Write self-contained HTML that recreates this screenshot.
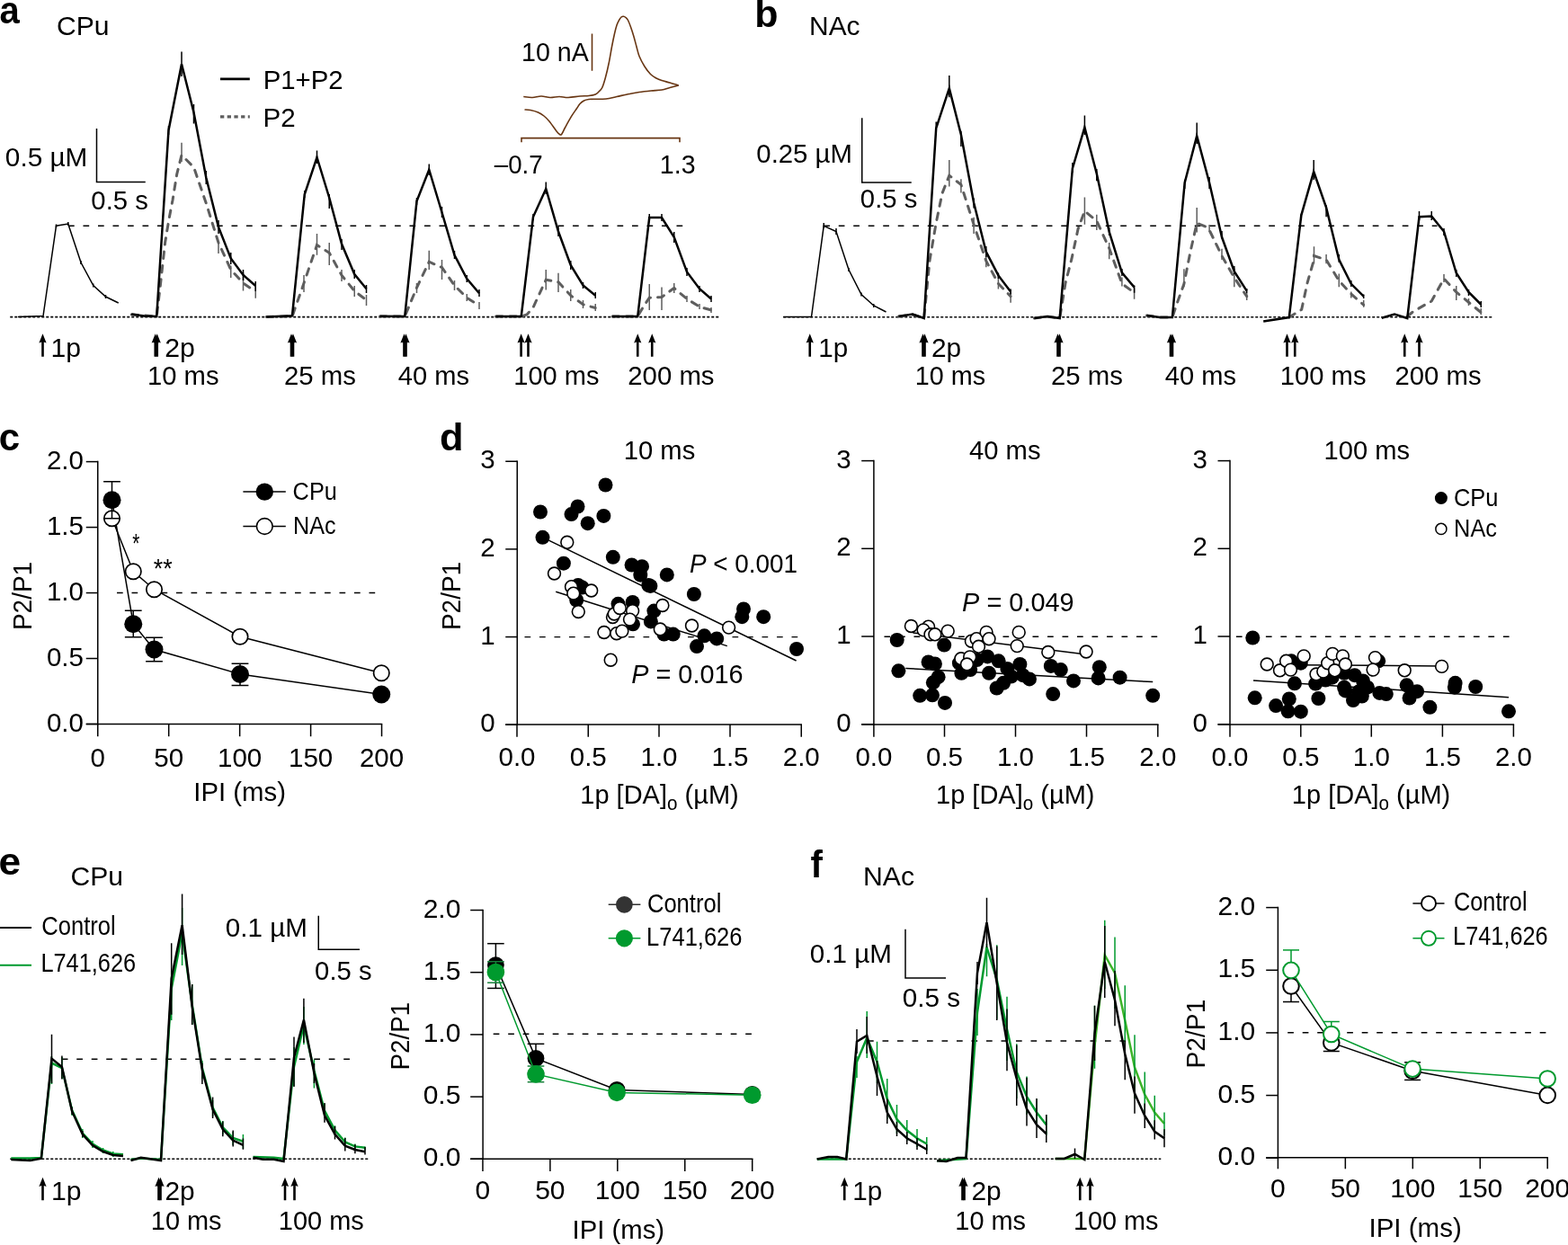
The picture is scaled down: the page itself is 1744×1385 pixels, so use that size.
<!DOCTYPE html>
<html><head><meta charset="utf-8"><title>Figure</title>
<style>html,body{margin:0;padding:0;background:#fff;}svg{display:block;}
text{font-family:"Liberation Sans",Arial,Helvetica,sans-serif;font-kerning:none;}</style></head>
<body><svg width="1744" height="1385" viewBox="0 0 1744 1385">
<rect width="1744" height="1385" fill="#fff"/>
<text transform="translate(-0.57,25.7) scale(0.9534,1.0)" fill="#000" xml:space="preserve"><tspan font-size="42" font-weight="bold">a</tspan></text>
<text transform="translate(62.97,38.75) scale(1.0198,1.03)" fill="#000" xml:space="preserve"><tspan font-size="29.5">CPu</tspan></text>
<line x1="245" y1="87.9" x2="277.8" y2="87.9" stroke="#000" stroke-width="2.6"/>
<text transform="translate(292.64,98.8) scale(0.9960,1.03)" fill="#000" xml:space="preserve"><tspan font-size="29.5">P1+P2</tspan></text>
<line x1="245" y1="129.8" x2="277.8" y2="129.8" stroke="#5e5e5e" stroke-width="3.2" stroke-dasharray="4.3 3.4"/>
<text transform="translate(292.62,141) scale(1.0022,1.03)" fill="#000" xml:space="preserve"><tspan font-size="29.5">P2</tspan></text>
<path d="M107.5,143 L107.5,202.5 L161.75,202.5" stroke="#000" stroke-width="1.5" fill="none" stroke-linejoin="miter" stroke-miterlimit="4" />
<text transform="translate(5.84,184.5) scale(1.0091,1.03)" fill="#000" xml:space="preserve"><tspan font-size="29.5">0.5 µM</tspan></text>
<text transform="translate(101.36,233) scale(0.9921,1.015)" fill="#000" xml:space="preserve"><tspan font-size="29.5">0.5 s</tspan></text>
<line x1="11.25" y1="352.6" x2="799.75" y2="352.6" stroke="#000" stroke-width="1.6" stroke-dasharray="3 2"/>
<line x1="76" y1="251.25" x2="759.75" y2="251.25" stroke="#000" stroke-width="1.4" stroke-dasharray="6.7 9.8"/>
<path d="M20,352.5 L48,351.5 L62.5,251.25 L75.75,249 L90,292 L103.75,317.5 L117.5,330 L131.75,337" stroke="#000" stroke-width="1.5" fill="none" stroke-linejoin="miter" stroke-miterlimit="4" />
<path d="M62.5,249.5V253 M75.75,247V251 M90,290V294 M103.75,315.5V319.5 M117.5,328V332" stroke="#000" stroke-width="1.5" fill="none"/>
<path d="M146.25,350 L174.25,352 L178.2,318.7 L183.7,269.3 L187.8,244.6 L192,222.7 L196.7,193.9 L202,172.5 L215.5,186 L229.25,226 L243,270 L256.75,300 L270.5,315 L284.25,324.5" stroke="#5e5e5e" stroke-width="3" fill="none" stroke-linejoin="miter" stroke-miterlimit="4" stroke-dasharray="7.5 8" stroke-linecap="round"/>
<path d="M202,158.75V180 M243,268V282 M256.75,295.4V309 M270.5,303.6V323.5 M284.25,314.6V331.8" stroke="#5e5e5e" stroke-width="1.5" fill="none"/>
<path d="M146.25,349.5 L160,351.5 L174.25,352 L187.5,145 L202,71.25 L215.5,125 L229.25,197.5 L243,252.5 L256.75,287.5 L270.5,306 L284.25,318" stroke="#000" stroke-width="2.5" fill="none" stroke-linejoin="miter" stroke-miterlimit="4" />
<path d="M187.5,140V150 M202,57.5V85 M215.5,116V137.5 M229.25,190V205 M243,245V260 M256.75,281V294 M270.5,300V312 M284.25,313V324" stroke="#000" stroke-width="1.5" fill="none"/>
<path d="M296.25,352.5 L325,352 L338,315 L352.5,272.5 L366.25,281.25 L380,306.25 L394.25,323.75 L407.5,333.75" stroke="#5e5e5e" stroke-width="3" fill="none" stroke-linejoin="miter" stroke-miterlimit="4" stroke-dasharray="7.5 8" stroke-linecap="round"/>
<path d="M338,306V325 M352.5,260V283.75 M366.25,270V295 M380,300V313 M394.25,318V330 M407.5,328V340" stroke="#5e5e5e" stroke-width="1.5" fill="none"/>
<path d="M296.25,352.5 L325,351.25 L338.75,216.25 L352.5,175 L366.25,220 L380,271.25 L394.25,305 L407.5,321.25" stroke="#000" stroke-width="2.5" fill="none" stroke-linejoin="miter" stroke-miterlimit="4" />
<path d="M338.75,212V220 M352.5,167.5V182 M366.25,216V232 M380,266V278 M394.25,300V310 M407.5,317V326" stroke="#000" stroke-width="1.5" fill="none"/>
<path d="M422.5,352 L450.25,352 L463.5,320 L477.25,291.25 L491.5,297.5 L505.5,317.5 L519.25,331.25 L533,340" stroke="#5e5e5e" stroke-width="3" fill="none" stroke-linejoin="miter" stroke-miterlimit="4" stroke-dasharray="7.5 8" stroke-linecap="round"/>
<path d="M463.5,315V326 M477.25,278.75V300 M491.5,289V311 M505.5,312V323 M519.25,327V335 M533,336V344" stroke="#5e5e5e" stroke-width="1.5" fill="none"/>
<path d="M422.5,351.75 L450.25,352 L463.5,223.75 L477.25,188.75 L491.5,236.25 L505.5,283.75 L519.25,310 L533,326.25" stroke="#000" stroke-width="2.5" fill="none" stroke-linejoin="miter" stroke-miterlimit="4" />
<path d="M463.5,220V228 M477.25,182.5V195 M491.5,230V242 M505.5,279V288 M519.25,306V314 M533,322V330" stroke="#000" stroke-width="1.5" fill="none"/>
<path d="M551.5,352 L579.75,352 L586,350 L593,342 L607.25,311.25 L621,313.75 L634.75,328.75 L648.5,338.75 L662.25,342.5" stroke="#5e5e5e" stroke-width="3" fill="none" stroke-linejoin="miter" stroke-miterlimit="4" stroke-dasharray="7.5 8" stroke-linecap="round"/>
<path d="M607.25,300V322.5 M621,303.75V325 M634.75,322V335 M648.5,334V343 M662.25,338V346" stroke="#5e5e5e" stroke-width="1.5" fill="none"/>
<path d="M551.5,352 L579.75,352 L593,241.25 L607.25,210 L621,257.5 L634.75,295 L648.5,317.5 L662.25,328.75" stroke="#000" stroke-width="2.5" fill="none" stroke-linejoin="miter" stroke-miterlimit="4" />
<path d="M593,238V245 M607.25,202.5V216 M621,252V263 M634.75,290V300 M648.5,314V321 M662.25,325V332" stroke="#000" stroke-width="1.5" fill="none"/>
<path d="M681,352 L709.25,352 L714.75,342.5 L722.25,331.25 L736,330.5 L749.75,320.5 L764,332.5 L778,341.25 L791,345" stroke="#5e5e5e" stroke-width="3" fill="none" stroke-linejoin="miter" stroke-miterlimit="4" stroke-dasharray="7.5 8" stroke-linecap="round"/>
<path d="M722.25,316V345 M736,319.5V345 M749.75,315V326 M764,329V336 M778,338V344 M791,342V348" stroke="#5e5e5e" stroke-width="1.5" fill="none"/>
<path d="M681,352 L709.25,352 L722.25,242 L736,242 L749.75,263.75 L764,302.5 L778,321.25 L791,332.5" stroke="#000" stroke-width="2.5" fill="none" stroke-linejoin="miter" stroke-miterlimit="4" />
<path d="M722.25,238V246 M736,238V246 M749.75,258V270 M764,298V307 M778,318V325 M791,329V336" stroke="#000" stroke-width="1.5" fill="none"/>
<path d="M47.5,371.2 L51.6,381.6 L48.8,380.4 V396.8 H46.2 V380.4 L43.4,381.6 Z" fill="#000"/>
<text transform="translate(56.45,396.5) scale(1.0229,1.015)" fill="#000" xml:space="preserve"><tspan font-size="29.5">1p</tspan></text>
<path d="M172.75,371.2 L176.85,381.6 L174.05,380.4 V396.8 H171.45 V380.4 L168.65,381.6 Z" fill="#000"/>
<path d="M174.75,371.2 L178.85,381.6 L176.05,380.4 V396.8 H173.45 V380.4 L170.65,381.6 Z" fill="#000"/>
<text transform="translate(183.28,396.7) scale(1.0269,1.015)" fill="#000" xml:space="preserve"><tspan font-size="29.5">2p</tspan></text>
<text transform="translate(164.03,428) scale(0.9900,1.015)" fill="#000" xml:space="preserve"><tspan font-size="29.5">10 ms</tspan></text>
<path d="M324,371.2 L328.1,381.6 L325.3,380.4 V396.8 H322.7 V380.4 L319.9,381.6 Z" fill="#000"/>
<path d="M326,371.2 L330.1,381.6 L327.3,380.4 V396.8 H324.7 V380.4 L321.9,381.6 Z" fill="#000"/>
<text transform="translate(316.02,428) scale(0.9964,1.015)" fill="#000" xml:space="preserve"><tspan font-size="29.5">25 ms</tspan></text>
<path d="M449.5,371.2 L453.6,381.6 L450.8,380.4 V396.8 H448.2 V380.4 L445.4,381.6 Z" fill="#000"/>
<path d="M451.5,371.2 L455.6,381.6 L452.8,380.4 V396.8 H450.2 V380.4 L447.4,381.6 Z" fill="#000"/>
<text transform="translate(442.83,428) scale(0.9861,1.015)" fill="#000" xml:space="preserve"><tspan font-size="29.5">40 ms</tspan></text>
<path d="M579.6,371.2 L583.7,381.6 L580.9,380.4 V396.8 H578.3 V380.4 L575.5,381.6 Z" fill="#000"/>
<path d="M587.5,371.2 L591.6,381.6 L588.8,380.4 V396.8 H586.2 V380.4 L583.4,381.6 Z" fill="#000"/>
<text transform="translate(571.29,428) scale(0.9847,1.015)" fill="#000" xml:space="preserve"><tspan font-size="29.5">100 ms</tspan></text>
<path d="M709.25,371.2 L713.35,381.6 L710.55,380.4 V396.8 H707.95 V380.4 L705.15,381.6 Z" fill="#000"/>
<path d="M725.25,371.2 L729.35,381.6 L726.55,380.4 V396.8 H723.95 V380.4 L721.15,381.6 Z" fill="#000"/>
<text transform="translate(698.27,428) scale(0.9953,1.015)" fill="#000" xml:space="preserve"><tspan font-size="29.5">200 ms</tspan></text>
<path d="M582.25,107.5 C583.88,107.67 588.71,108.58 592,108.5 C595.29,108.42 598.67,107 602,107 C605.33,107 608.67,108.42 612,108.5 C615.33,108.58 618.67,107.5 622,107.5 C625.33,107.5 628.17,108.58 632,108.5 C635.83,108.42 641.17,107.33 645,107 C648.83,106.67 652.12,106.83 655,106.5 C657.88,106.17 660.42,105.75 662.25,105 C664.08,104.25 664.75,103.25 666,102 C667.25,100.75 668.5,100.17 669.75,97.5 C671,94.83 672.25,90.58 673.5,86 C674.75,81.42 676.08,75.67 677.25,70 C678.42,64.33 679.46,57.42 680.5,52 C681.54,46.58 682.58,41.5 683.5,37.5 C684.42,33.5 685.17,30.5 686,28 C686.83,25.5 687.67,24 688.5,22.5 C689.33,21 690.17,19.71 691,19 C691.83,18.29 692.67,18.17 693.5,18.25 C694.33,18.33 695.17,18.79 696,19.5 C696.83,20.21 697.58,20.75 698.5,22.5 C699.42,24.25 700.46,27.08 701.5,30 C702.54,32.92 703.67,36.33 704.75,40 C705.83,43.67 706.96,48.25 708,52 C709.04,55.75 709.5,58.83 711,62.5 C712.5,66.17 714.92,70.67 717,74 C719.08,77.33 721.33,80.33 723.5,82.5 C725.67,84.67 727.92,85.83 730,87 C732.08,88.17 733.5,88.67 736,89.5 C738.5,90.33 741.88,91.08 745,92 C748.12,92.92 753.12,94.5 754.75,95" stroke="#683613" stroke-width="1.6" fill="none" stroke-linejoin="round"/>
<path d="M754.75,95 C753.12,95.42 748.12,96.67 745,97.5 C741.88,98.33 739.5,99.42 736,100 C732.5,100.58 728.17,100.58 724,101 C719.83,101.42 715,101.92 711,102.5 C707,103.08 704.17,103.67 700,104.5 C695.83,105.33 690.33,106.58 686,107.5 C681.67,108.42 678.33,109.53 674,110 C669.67,110.47 663.2,110.22 660,110.3 C656.8,110.38 656.55,110.22 654.8,110.5 C653.05,110.78 651.13,111.17 649.5,112 C647.87,112.83 646.35,114.03 645,115.5 C643.65,116.97 643,118.43 641.4,120.8 C639.8,123.17 637.55,126.17 635.4,129.7 C633.25,133.23 630.07,139.12 628.5,142 C626.93,144.88 626.7,145.7 626,147 C625.3,148.3 624.88,149.38 624.3,149.8 C623.72,150.22 623.38,150.13 622.5,149.5 C621.62,148.87 620.92,148.42 619,146 C617.08,143.58 613.33,137.83 611,135 C608.67,132.17 607.08,130.67 605,129 C602.92,127.33 601,126.08 598.5,125 C596,123.92 592.5,123 590,122.5 C587.5,122 584.58,122.08 583.5,122" stroke="#683613" stroke-width="1.6" fill="none" stroke-linejoin="round"/>
<path d="M580,158.2 L580,153.6 L756,153.6 L756,158.2" stroke="#683613" stroke-width="1.6" fill="none" stroke-linejoin="miter" stroke-miterlimit="4" />
<line x1="658.5" y1="37.5" x2="658.5" y2="78.75" stroke="#683613" stroke-width="1.6"/>
<text transform="translate(580.07,67.5) scale(0.9694,1.03)" fill="#000" xml:space="preserve"><tspan font-size="29.5">10 nA</tspan></text>
<text transform="translate(549.75,192.5) scale(0.9386,1.015)" fill="#000" xml:space="preserve"><tspan font-size="29.5">–0.7</tspan></text>
<text transform="translate(733.83,192.5) scale(0.9676,1.015)" fill="#000" xml:space="preserve"><tspan font-size="29.5">1.3</tspan></text>
<text transform="translate(839.17,29.75) scale(1.0230,1.0)" fill="#000" xml:space="preserve"><tspan font-size="42" font-weight="bold">b</tspan></text>
<text transform="translate(900.05,38.75) scale(1.0137,1.03)" fill="#000" xml:space="preserve"><tspan font-size="29.5">NAc</tspan></text>
<path d="M958.75,131.25 L958.75,203 L1013.75,203" stroke="#000" stroke-width="1.5" fill="none" stroke-linejoin="miter" stroke-miterlimit="4" />
<text transform="translate(841.35,181.25) scale(0.9941,1.03)" fill="#000" xml:space="preserve"><tspan font-size="29.5">0.25 µM</tspan></text>
<text transform="translate(956.86,230.5) scale(0.9921,1.015)" fill="#000" xml:space="preserve"><tspan font-size="29.5">0.5 s</tspan></text>
<line x1="871.25" y1="352.8" x2="1659.75" y2="352.8" stroke="#000" stroke-width="1.6" stroke-dasharray="3 2"/>
<line x1="916.25" y1="251.25" x2="1598.5" y2="251.25" stroke="#000" stroke-width="1.4" stroke-dasharray="6.7 9.8"/>
<path d="M871.25,352.5 L902.5,352.5 L916.25,251.25 L930,257.5 L944,300 L958,327.5 L971.75,340 L985.5,347" stroke="#000" stroke-width="1.5" fill="none" stroke-linejoin="miter" stroke-miterlimit="4" />
<path d="M916.25,248V254 M930,254V261 M944,298V302 M958,325.5V329.5 M971.75,338V342" stroke="#000" stroke-width="1.5" fill="none"/>
<path d="M999.5,352 L1015,350 L1027.7,354 L1034,290 L1041.2,247.8 L1048,215 L1055.8,195.2 L1068.9,205.4 L1083.1,249.8 L1096.8,290.3 L1110.4,315.5 L1124.1,329.7" stroke="#5e5e5e" stroke-width="3" fill="none" stroke-linejoin="miter" stroke-miterlimit="4" stroke-dasharray="7.5 8" stroke-linecap="round"/>
<path d="M1055.8,178V207.4 M1068.9,199.3V214.5 M1083.1,241.7V260 M1096.8,284.2V297.3 M1110.4,304.4V321.6 M1124.1,324.6V336.8" stroke="#5e5e5e" stroke-width="1.5" fill="none"/>
<path d="M999.5,352 L1015,349.5 L1027.7,354 L1041.2,142.7 L1055.8,98.2 L1068.9,149.8 L1083.1,225.6 L1096.8,280.2 L1110.4,306.4 L1124.1,324.6" stroke="#000" stroke-width="2.5" fill="none" stroke-linejoin="miter" stroke-miterlimit="4" />
<path d="M1041.2,135.6V150 M1055.8,84V108.3 M1068.9,145.7V162.9 M1083.1,220.5V231.6 M1096.8,274V286 M1110.4,303.4V310 M1124.1,321.6V327.5" stroke="#000" stroke-width="1.5" fill="none"/>
<path d="M1150.4,354 L1164.6,352 L1178.7,354 L1185,315 L1191.9,288.2 L1199,255 L1206.4,234.7 L1219.8,245.8 L1233.7,276.1 L1247.9,315.5 L1261.6,325.7" stroke="#5e5e5e" stroke-width="3" fill="none" stroke-linejoin="miter" stroke-miterlimit="4" stroke-dasharray="7.5 8" stroke-linecap="round"/>
<path d="M1206.4,219.5V249.8 M1219.8,238.7V255.9 M1233.7,270V288.3 M1247.9,308.5V318.4 M1261.6,320.5V332.7" stroke="#5e5e5e" stroke-width="1.5" fill="none"/>
<path d="M1150.4,354 L1164.6,352 L1178.7,354 L1192.9,187.2 L1206.4,141.7 L1219.8,193.2 L1233.7,257.9 L1247.9,303.4 L1261.6,319.6" stroke="#000" stroke-width="2.5" fill="none" stroke-linejoin="miter" stroke-miterlimit="4" />
<path d="M1192.9,181V192 M1206.4,128.5V150 M1219.8,188V201.3 M1233.7,253V262 M1247.9,299V307 M1261.6,317.5V325.7" stroke="#000" stroke-width="1.5" fill="none"/>
<path d="M1275.5,351 L1290,353 L1303.9,353 L1310,335 L1316.9,315.8 L1324,280 L1331.2,248.2 L1342,252.6 L1345.1,256 L1359,284.6 L1372.8,308.9 L1386.7,329.7" stroke="#5e5e5e" stroke-width="3" fill="none" stroke-linejoin="miter" stroke-miterlimit="4" stroke-dasharray="7.5 8" stroke-linecap="round"/>
<path d="M1316.9,299.3V319.3 M1331.2,230.9V258.6 M1345.1,250V258 M1359,276.8V288.9 M1372.8,298.5V319.3 M1386.7,326V334" stroke="#5e5e5e" stroke-width="1.5" fill="none"/>
<path d="M1275.5,351 L1290,353 L1303.9,353.1 L1317.7,203.2 L1331.2,151.2 L1345.1,203.2 L1359,263.8 L1372.8,301.9 L1386.7,323.6" stroke="#000" stroke-width="2.5" fill="none" stroke-linejoin="miter" stroke-miterlimit="4" />
<path d="M1317.7,199.7V210 M1331.2,136.5V160 M1345.1,197.1V210.1 M1359,257V265.5 M1372.8,296V305 M1386.7,321V326" stroke="#000" stroke-width="1.5" fill="none"/>
<path d="M1433.8,353 L1447.7,344.4 L1454,315 L1460.7,291.5 L1461.5,284.6 L1475.1,289 L1489.3,312.3 L1502.8,327 L1516.7,339.2" stroke="#5e5e5e" stroke-width="3" fill="none" stroke-linejoin="miter" stroke-miterlimit="4" stroke-dasharray="7.5 8" stroke-linecap="round"/>
<path d="M1461.5,274.2V293.3 M1475.1,282.9V293.3 M1489.3,304.5V319.3 M1502.8,324.6V331.5 M1516.7,334V341.8" stroke="#5e5e5e" stroke-width="1.5" fill="none"/>
<path d="M1405.2,357.4 L1433.8,353.1 L1447.3,239.6 L1461.2,191 L1475.1,230.9 L1489.3,288.9 L1502.8,315.8 L1516.7,329.7" stroke="#000" stroke-width="2.5" fill="none" stroke-linejoin="miter" stroke-miterlimit="4" />
<path d="M1447.3,237.8V245 M1461.2,178V200 M1475.1,228.3V241.3 M1489.3,283V292 M1502.8,312V319 M1516.7,327.6V331.9" stroke="#000" stroke-width="1.5" fill="none"/>
<path d="M1565.25,352 L1572.25,346.25 L1592.25,335 L1606,310 L1619.75,325 L1633.5,336.25 L1647.25,347.5" stroke="#5e5e5e" stroke-width="3" fill="none" stroke-linejoin="miter" stroke-miterlimit="4" stroke-dasharray="7.5 8" stroke-linecap="round"/>
<path d="M1606,305V314 M1619.75,318V334 M1633.5,332V340 M1647.25,343V350" stroke="#5e5e5e" stroke-width="1.5" fill="none"/>
<path d="M1536.75,353.75 L1551,349.5 L1565.25,354 L1578.5,241.25 L1592.25,240.5 L1606,257.5 L1619.75,303.75 L1633.5,325 L1647.25,338.75" stroke="#000" stroke-width="2.5" fill="none" stroke-linejoin="miter" stroke-miterlimit="4" />
<path d="M1578.5,235V245 M1592.25,235V245 M1606,254V262 M1619.75,300V308 M1633.5,322V329 M1647.25,335V342" stroke="#000" stroke-width="1.5" fill="none"/>
<path d="M900.75,371.2 L904.85,381.6 L902.05,380.4 V396.8 H899.45 V380.4 L896.65,381.6 Z" fill="#000"/>
<text transform="translate(910.24,396.5) scale(1.0059,1.015)" fill="#000" xml:space="preserve"><tspan font-size="29.5">1p</tspan></text>
<path d="M1026.5,371.2 L1030.6,381.6 L1027.8,380.4 V396.8 H1025.2 V380.4 L1022.4,381.6 Z" fill="#000"/>
<path d="M1028.5,371.2 L1032.6,381.6 L1029.8,380.4 V396.8 H1027.2 V380.4 L1024.4,381.6 Z" fill="#000"/>
<text transform="translate(1036,396.7) scale(1.0136,1.015)" fill="#000" xml:space="preserve"><tspan font-size="29.5">2p</tspan></text>
<text transform="translate(1017.81,428) scale(0.9738,1.015)" fill="#000" xml:space="preserve"><tspan font-size="29.5">10 ms</tspan></text>
<path d="M1176.5,371.2 L1180.6,381.6 L1177.8,380.4 V396.8 H1175.2 V380.4 L1172.4,381.6 Z" fill="#000"/>
<path d="M1178.5,371.2 L1182.6,381.6 L1179.8,380.4 V396.8 H1177.2 V380.4 L1174.4,381.6 Z" fill="#000"/>
<text transform="translate(1169.02,428) scale(0.9964,1.015)" fill="#000" xml:space="preserve"><tspan font-size="29.5">25 ms</tspan></text>
<path d="M1302,371.2 L1306.1,381.6 L1303.3,380.4 V396.8 H1300.7 V380.4 L1297.9,381.6 Z" fill="#000"/>
<path d="M1304,371.2 L1308.1,381.6 L1305.3,380.4 V396.8 H1302.7 V380.4 L1299.9,381.6 Z" fill="#000"/>
<text transform="translate(1295.83,428) scale(0.9861,1.015)" fill="#000" xml:space="preserve"><tspan font-size="29.5">40 ms</tspan></text>
<path d="M1431.5,371.2 L1435.6,381.6 L1432.8,380.4 V396.8 H1430.2 V380.4 L1427.4,381.6 Z" fill="#000"/>
<path d="M1440.25,371.2 L1444.35,381.6 L1441.55,380.4 V396.8 H1438.95 V380.4 L1436.15,381.6 Z" fill="#000"/>
<text transform="translate(1423.78,428) scale(0.9901,1.015)" fill="#000" xml:space="preserve"><tspan font-size="29.5">100 ms</tspan></text>
<path d="M1562.25,371.2 L1566.35,381.6 L1563.55,380.4 V396.8 H1560.95 V380.4 L1558.15,381.6 Z" fill="#000"/>
<path d="M1578.5,371.2 L1582.6,381.6 L1579.8,380.4 V396.8 H1577.2 V380.4 L1574.4,381.6 Z" fill="#000"/>
<text transform="translate(1551.53,428) scale(0.9927,1.015)" fill="#000" xml:space="preserve"><tspan font-size="29.5">200 ms</tspan></text>
<text transform="translate(-1.34,501)" fill="#000" xml:space="preserve"><tspan font-size="42" font-weight="bold">c</tspan></text>
<line x1="108.75" y1="512.85" x2="108.75" y2="806.25" stroke="#000" stroke-width="1.5"/>
<line x1="95.75" y1="513.6" x2="108.75" y2="513.6" stroke="#000" stroke-width="1.5"/>
<text x="92.9" y="521.7" font-size="29.5" text-anchor="end" fill="#000">2.0</text>
<line x1="95.75" y1="586.58" x2="108.75" y2="586.58" stroke="#000" stroke-width="1.5"/>
<text x="92.9" y="594.68" font-size="29.5" text-anchor="end" fill="#000">1.5</text>
<line x1="95.75" y1="659.55" x2="108.75" y2="659.55" stroke="#000" stroke-width="1.5"/>
<text x="92.9" y="667.65" font-size="29.5" text-anchor="end" fill="#000">1.0</text>
<line x1="95.75" y1="732.52" x2="108.75" y2="732.52" stroke="#000" stroke-width="1.5"/>
<text x="92.9" y="740.62" font-size="29.5" text-anchor="end" fill="#000">0.5</text>
<line x1="95.75" y1="805.5" x2="108.75" y2="805.5" stroke="#000" stroke-width="1.5"/>
<text x="92.9" y="813.6" font-size="29.5" text-anchor="end" fill="#000">0.0</text>
<line x1="95.75" y1="805.5" x2="425.25" y2="805.5" stroke="#000" stroke-width="1.5"/>
<line x1="108.75" y1="805.5" x2="108.75" y2="819.25" stroke="#000" stroke-width="1.5"/>
<text x="108.75" y="852.5" font-size="29.5" text-anchor="middle" fill="#000">0</text>
<line x1="187.7" y1="805.5" x2="187.7" y2="819.25" stroke="#000" stroke-width="1.5"/>
<text x="187.7" y="852.5" font-size="29.5" text-anchor="middle" fill="#000">50</text>
<line x1="266.65" y1="805.5" x2="266.65" y2="819.25" stroke="#000" stroke-width="1.5"/>
<text x="266.65" y="852.5" font-size="29.5" text-anchor="middle" fill="#000">100</text>
<line x1="345.6" y1="805.5" x2="345.6" y2="819.25" stroke="#000" stroke-width="1.5"/>
<text x="345.6" y="852.5" font-size="29.5" text-anchor="middle" fill="#000">150</text>
<line x1="424.55" y1="805.5" x2="424.55" y2="819.25" stroke="#000" stroke-width="1.5"/>
<text x="424.55" y="852.5" font-size="29.5" text-anchor="middle" fill="#000">200</text>
<text transform="translate(215.29,891.3) scale(0.9941,1.03)" fill="#000" xml:space="preserve"><tspan font-size="29.5">IPI (ms)</tspan></text>
<text transform="translate(35,701.04) rotate(-90) scale(0.9477,1)" font-size="29.5">P2/P1</text>
<line x1="130" y1="659.5" x2="423.75" y2="659.5" stroke="#000" stroke-width="1.4" stroke-dasharray="6.7 9.8"/>
<path d="M124.5,556.25 L148.25,694.25 L171.5,722.5 L267,750 L424.25,772.5" stroke="#000" stroke-width="1.5" fill="none" stroke-linejoin="miter" stroke-miterlimit="4" />
<path d="M124.5,576.75 L148.25,635.75 L171.5,655.75 L267,708.25 L424.25,748.75" stroke="#000" stroke-width="1.5" fill="none" stroke-linejoin="miter" stroke-miterlimit="4" />
<line x1="124.5" y1="535.75" x2="124.5" y2="576.75" stroke="#000" stroke-width="1.5"/>
<line x1="115.1" y1="535.75" x2="133.9" y2="535.75" stroke="#000" stroke-width="1.5"/>
<line x1="115.1" y1="576.75" x2="133.9" y2="576.75" stroke="#000" stroke-width="1.5"/>
<line x1="148.25" y1="679.25" x2="148.25" y2="708.75" stroke="#000" stroke-width="1.5"/>
<line x1="138.85" y1="679.25" x2="157.65" y2="679.25" stroke="#000" stroke-width="1.5"/>
<line x1="138.85" y1="708.75" x2="157.65" y2="708.75" stroke="#000" stroke-width="1.5"/>
<line x1="171.5" y1="709.25" x2="171.5" y2="735.75" stroke="#000" stroke-width="1.5"/>
<line x1="162.1" y1="709.25" x2="180.9" y2="709.25" stroke="#000" stroke-width="1.5"/>
<line x1="162.1" y1="735.75" x2="180.9" y2="735.75" stroke="#000" stroke-width="1.5"/>
<line x1="267" y1="738.25" x2="267" y2="762.5" stroke="#000" stroke-width="1.5"/>
<line x1="257.6" y1="738.25" x2="276.4" y2="738.25" stroke="#000" stroke-width="1.5"/>
<line x1="257.6" y1="762.5" x2="276.4" y2="762.5" stroke="#000" stroke-width="1.5"/>
<circle cx="124.5" cy="556.25" r="10" fill="#000"/>
<circle cx="148.25" cy="694.25" r="10" fill="#000"/>
<circle cx="171.5" cy="722.5" r="10" fill="#000"/>
<circle cx="267" cy="750" r="10" fill="#000"/>
<circle cx="424.25" cy="772.5" r="10" fill="#000"/>
<circle cx="124.5" cy="576.75" r="8.7" fill="#fff" stroke="#000" stroke-width="1.7"/>
<circle cx="148.25" cy="635.75" r="8.7" fill="#fff" stroke="#000" stroke-width="1.7"/>
<circle cx="171.5" cy="655.75" r="8.7" fill="#fff" stroke="#000" stroke-width="1.7"/>
<circle cx="267" cy="708.25" r="8.7" fill="#fff" stroke="#000" stroke-width="1.7"/>
<circle cx="424.25" cy="748.75" r="8.7" fill="#fff" stroke="#000" stroke-width="1.7"/>
<line x1="124.5" y1="568" x2="124.5" y2="576.75" stroke="#000" stroke-width="1.5"/>
<line x1="115.1" y1="576.75" x2="133.9" y2="576.75" stroke="#000" stroke-width="1.5"/>
<text transform="translate(147.27,614.05) scale(0.7018,1.0)" fill="#000" xml:space="preserve"><tspan font-size="29.5">*</tspan></text>
<text transform="translate(170.82,641.55) scale(0.9081,1.0)" fill="#000" xml:space="preserve"><tspan font-size="29.5">**</tspan></text>
<line x1="270.4" y1="547.1" x2="317.8" y2="547.1" stroke="#000" stroke-width="1.5"/>
<circle cx="294.3" cy="547.1" r="9.7" fill="#000"/>
<line x1="270.4" y1="585.5" x2="317.8" y2="585.5" stroke="#000" stroke-width="1.5"/>
<circle cx="294.3" cy="585.5" r="8.85" fill="#fff" stroke="#000" stroke-width="1.6"/>
<text transform="translate(325.61,555.6) scale(0.9450,1.03)" fill="#000" xml:space="preserve"><tspan font-size="26.8">CPu</tspan></text>
<text transform="translate(325.93,594.3) scale(0.9408,1.03)" fill="#000" xml:space="preserve"><tspan font-size="26.8">NAc</tspan></text>
<text transform="translate(489.02,501) scale(1.0348,1.0)" fill="#000" xml:space="preserve"><tspan font-size="42" font-weight="bold">d</tspan></text>
<text transform="translate(512.25,701.04) rotate(-90) scale(0.9477,1)" font-size="29.5">P2/P1</text>
<line x1="575.25" y1="512.5" x2="575.25" y2="806.95" stroke="#000" stroke-width="1.5"/>
<line x1="562.25" y1="513.25" x2="575.25" y2="513.25" stroke="#000" stroke-width="1.5"/>
<text x="550.65" y="521.35" font-size="29.5" text-anchor="end" fill="#000">3</text>
<line x1="562.25" y1="610.9" x2="575.25" y2="610.9" stroke="#000" stroke-width="1.5"/>
<text x="550.65" y="619" font-size="29.5" text-anchor="end" fill="#000">2</text>
<line x1="562.25" y1="708.55" x2="575.25" y2="708.55" stroke="#000" stroke-width="1.5"/>
<text x="550.65" y="716.65" font-size="29.5" text-anchor="end" fill="#000">1</text>
<line x1="562.25" y1="806.2" x2="575.25" y2="806.2" stroke="#000" stroke-width="1.5"/>
<text x="550.65" y="814.3" font-size="29.5" text-anchor="end" fill="#000">0</text>
<line x1="562.25" y1="805.9" x2="892" y2="805.9" stroke="#000" stroke-width="1.5"/>
<line x1="575" y1="805.9" x2="575" y2="819.65" stroke="#000" stroke-width="1.5"/>
<text x="575" y="851.5" font-size="29.5" text-anchor="middle" fill="#000">0.0</text>
<line x1="654.25" y1="805.9" x2="654.25" y2="819.65" stroke="#000" stroke-width="1.5"/>
<text x="654.25" y="851.5" font-size="29.5" text-anchor="middle" fill="#000">0.5</text>
<line x1="733" y1="805.9" x2="733" y2="819.65" stroke="#000" stroke-width="1.5"/>
<text x="733" y="851.5" font-size="29.5" text-anchor="middle" fill="#000">1.0</text>
<line x1="812" y1="805.9" x2="812" y2="819.65" stroke="#000" stroke-width="1.5"/>
<text x="812" y="851.5" font-size="29.5" text-anchor="middle" fill="#000">1.5</text>
<line x1="891.25" y1="805.9" x2="891.25" y2="819.65" stroke="#000" stroke-width="1.5"/>
<text x="891.25" y="851.5" font-size="29.5" text-anchor="middle" fill="#000">2.0</text>
<text transform="translate(693.78,511.2) scale(0.9900,1.015)" fill="#000" xml:space="preserve"><tspan font-size="29.5">10 ms</tspan></text>
<text transform="translate(645.29,893.75) scale(0.9835,1.03)" fill="#000" xml:space="preserve"><tspan font-size="29.5">1p [DA]</tspan><tspan font-size="21" dy="7.5">o</tspan><tspan font-size="29.5" dy="-7.5"> (µM)</tspan></text>
<line x1="583.5" y1="708.6" x2="893" y2="708.6" stroke="#000" stroke-width="1.4" stroke-dasharray="6.7 9.8"/>
<line x1="610.4" y1="601.2" x2="885.6" y2="735" stroke="#000" stroke-width="1.5"/>
<line x1="618.2" y1="658.3" x2="808.8" y2="718.6" stroke="#000" stroke-width="1.5"/>
<circle cx="673.5" cy="539.5" r="8" fill="#000"/>
<circle cx="601" cy="569.5" r="8" fill="#000"/>
<circle cx="642.5" cy="563.5" r="8" fill="#000"/>
<circle cx="635.5" cy="572.1" r="8" fill="#000"/>
<circle cx="653.7" cy="582.2" r="8" fill="#000"/>
<circle cx="671.4" cy="573.9" r="8" fill="#000"/>
<circle cx="603.5" cy="597.8" r="8" fill="#000"/>
<circle cx="681.8" cy="619.8" r="8" fill="#000"/>
<circle cx="626.9" cy="626.7" r="8" fill="#000"/>
<circle cx="702.6" cy="628.5" r="8" fill="#000"/>
<circle cx="714" cy="630.2" r="8" fill="#000"/>
<circle cx="712.3" cy="639.7" r="8" fill="#000"/>
<circle cx="741.8" cy="639.4" r="8" fill="#000"/>
<circle cx="721.3" cy="651" r="8" fill="#000"/>
<circle cx="723.4" cy="651.9" r="8" fill="#000"/>
<circle cx="643" cy="651" r="8" fill="#000"/>
<circle cx="647.7" cy="653.6" r="8" fill="#000"/>
<circle cx="641.2" cy="667.5" r="8" fill="#000"/>
<circle cx="687.5" cy="671.8" r="8" fill="#000"/>
<circle cx="703.6" cy="670" r="8" fill="#000"/>
<circle cx="771.9" cy="661" r="8" fill="#000"/>
<circle cx="727.4" cy="679.6" r="8" fill="#000"/>
<circle cx="827" cy="677.5" r="8" fill="#000"/>
<circle cx="825.3" cy="686.2" r="8" fill="#000"/>
<circle cx="849.2" cy="686.2" r="8" fill="#000"/>
<circle cx="723.9" cy="691.4" r="8" fill="#000"/>
<circle cx="704" cy="694.3" r="8" fill="#000"/>
<circle cx="738.6" cy="705.6" r="8" fill="#000"/>
<circle cx="748.7" cy="705.6" r="8" fill="#000"/>
<circle cx="783.4" cy="707.3" r="8" fill="#000"/>
<circle cx="797.2" cy="710.4" r="8" fill="#000"/>
<circle cx="775" cy="719.1" r="8" fill="#000"/>
<circle cx="886" cy="722" r="8" fill="#000"/>
<circle cx="630.8" cy="603.3" r="6.9" fill="#fff" stroke="#000" stroke-width="1.6"/>
<circle cx="616.5" cy="638" r="6.9" fill="#fff" stroke="#000" stroke-width="1.6"/>
<circle cx="635.5" cy="652.7" r="6.9" fill="#fff" stroke="#000" stroke-width="1.6"/>
<circle cx="637.8" cy="660.2" r="6.9" fill="#fff" stroke="#000" stroke-width="1.6"/>
<circle cx="657.7" cy="657" r="6.9" fill="#fff" stroke="#000" stroke-width="1.6"/>
<circle cx="643.3" cy="680.5" r="6.9" fill="#fff" stroke="#000" stroke-width="1.6"/>
<circle cx="681.5" cy="686.5" r="6.9" fill="#fff" stroke="#000" stroke-width="1.6"/>
<circle cx="683.2" cy="683" r="6.9" fill="#fff" stroke="#000" stroke-width="1.6"/>
<circle cx="689.3" cy="676.5" r="6.9" fill="#fff" stroke="#000" stroke-width="1.6"/>
<circle cx="703.6" cy="679.6" r="6.9" fill="#fff" stroke="#000" stroke-width="1.6"/>
<circle cx="700.5" cy="689.1" r="6.9" fill="#fff" stroke="#000" stroke-width="1.6"/>
<circle cx="736.9" cy="673.5" r="6.9" fill="#fff" stroke="#000" stroke-width="1.6"/>
<circle cx="769.5" cy="696" r="6.9" fill="#fff" stroke="#000" stroke-width="1.6"/>
<circle cx="810.6" cy="698.1" r="6.9" fill="#fff" stroke="#000" stroke-width="1.6"/>
<circle cx="671.9" cy="703.5" r="6.9" fill="#fff" stroke="#000" stroke-width="1.6"/>
<circle cx="685.8" cy="704.7" r="6.9" fill="#fff" stroke="#000" stroke-width="1.6"/>
<circle cx="691.9" cy="702.1" r="6.9" fill="#fff" stroke="#000" stroke-width="1.6"/>
<circle cx="734.3" cy="700" r="6.9" fill="#fff" stroke="#000" stroke-width="1.6"/>
<circle cx="679.2" cy="734.2" r="6.9" fill="#fff" stroke="#000" stroke-width="1.6"/>
<text transform="translate(766.94,636.6) scale(0.9441,1.03)" fill="#000" xml:space="preserve"><tspan font-size="29.5" font-style="italic">P</tspan><tspan font-size="29.5"> &lt; 0.001</tspan></text>
<text transform="translate(702.21,760.2) scale(0.9783,1.03)" fill="#000" xml:space="preserve"><tspan font-size="29.5" font-style="italic">P</tspan><tspan font-size="29.5"> = 0.016</tspan></text>
<line x1="971.9" y1="511.85" x2="971.9" y2="806.45" stroke="#000" stroke-width="1.5"/>
<line x1="958.2" y1="512.6" x2="971.9" y2="512.6" stroke="#000" stroke-width="1.5"/>
<text x="946.6" y="520.7" font-size="29.5" text-anchor="end" fill="#000">3</text>
<line x1="958.2" y1="610.3" x2="971.9" y2="610.3" stroke="#000" stroke-width="1.5"/>
<text x="946.6" y="618.4" font-size="29.5" text-anchor="end" fill="#000">2</text>
<line x1="958.2" y1="708" x2="971.9" y2="708" stroke="#000" stroke-width="1.5"/>
<text x="946.6" y="716.1" font-size="29.5" text-anchor="end" fill="#000">1</text>
<line x1="958.2" y1="805.7" x2="971.9" y2="805.7" stroke="#000" stroke-width="1.5"/>
<text x="946.6" y="813.8" font-size="29.5" text-anchor="end" fill="#000">0</text>
<line x1="958.2" y1="805.9" x2="1288.55" y2="805.9" stroke="#000" stroke-width="1.5"/>
<line x1="971.9" y1="805.9" x2="971.9" y2="819.65" stroke="#000" stroke-width="1.5"/>
<text x="971.9" y="851.5" font-size="29.5" text-anchor="middle" fill="#000">0.0</text>
<line x1="1050.5" y1="805.9" x2="1050.5" y2="819.65" stroke="#000" stroke-width="1.5"/>
<text x="1050.5" y="851.5" font-size="29.5" text-anchor="middle" fill="#000">0.5</text>
<line x1="1129.5" y1="805.9" x2="1129.5" y2="819.65" stroke="#000" stroke-width="1.5"/>
<text x="1129.5" y="851.5" font-size="29.5" text-anchor="middle" fill="#000">1.0</text>
<line x1="1208.5" y1="805.9" x2="1208.5" y2="819.65" stroke="#000" stroke-width="1.5"/>
<text x="1208.5" y="851.5" font-size="29.5" text-anchor="middle" fill="#000">1.5</text>
<line x1="1287.8" y1="805.9" x2="1287.8" y2="819.65" stroke="#000" stroke-width="1.5"/>
<text x="1287.8" y="851.5" font-size="29.5" text-anchor="middle" fill="#000">2.0</text>
<text transform="translate(1078.03,511.2) scale(0.9899,1.015)" fill="#000" xml:space="preserve"><tspan font-size="29.5">40 ms</tspan></text>
<text transform="translate(1041.04,893.75) scale(0.9835,1.03)" fill="#000" xml:space="preserve"><tspan font-size="29.5">1p [DA]</tspan><tspan font-size="21" dy="7.5">o</tspan><tspan font-size="29.5" dy="-7.5"> (µM)</tspan></text>
<line x1="983.5" y1="708.3" x2="1292.7" y2="708.3" stroke="#000" stroke-width="1.4" stroke-dasharray="6.7 9.8"/>
<line x1="1007.3" y1="743.4" x2="1282.2" y2="758.6" stroke="#000" stroke-width="1.5"/>
<line x1="1015.4" y1="703.9" x2="1208.1" y2="727.9" stroke="#000" stroke-width="1.5"/>
<circle cx="997.7" cy="712" r="8" fill="#000"/>
<circle cx="999.4" cy="746.3" r="8" fill="#000"/>
<circle cx="1050.2" cy="717.6" r="8" fill="#000"/>
<circle cx="1032.6" cy="736.5" r="8" fill="#000"/>
<circle cx="1039.9" cy="738.5" r="8" fill="#000"/>
<circle cx="1043.6" cy="753.2" r="8" fill="#000"/>
<circle cx="1037.9" cy="759.3" r="8" fill="#000"/>
<circle cx="1023.2" cy="773.8" r="8" fill="#000"/>
<circle cx="1037" cy="773.3" r="8" fill="#000"/>
<circle cx="1051" cy="781.9" r="8" fill="#000"/>
<circle cx="1069.4" cy="748.8" r="8" fill="#000"/>
<circle cx="1079.2" cy="745.1" r="8" fill="#000"/>
<circle cx="1086.6" cy="734" r="8" fill="#000"/>
<circle cx="1098.3" cy="730.4" r="8" fill="#000"/>
<circle cx="1100" cy="748.8" r="8" fill="#000"/>
<circle cx="1110.6" cy="735.3" r="8" fill="#000"/>
<circle cx="1120.4" cy="743.9" r="8" fill="#000"/>
<circle cx="1124.6" cy="752.5" r="8" fill="#000"/>
<circle cx="1116" cy="759.8" r="8" fill="#000"/>
<circle cx="1108.6" cy="765.5" r="8" fill="#000"/>
<circle cx="1134.4" cy="739" r="8" fill="#000"/>
<circle cx="1137.6" cy="751.2" r="8" fill="#000"/>
<circle cx="1145" cy="755.4" r="8" fill="#000"/>
<circle cx="1168.8" cy="740.9" r="8" fill="#000"/>
<circle cx="1179.8" cy="745.1" r="8" fill="#000"/>
<circle cx="1171.2" cy="772.1" r="8" fill="#000"/>
<circle cx="1194" cy="757.4" r="8" fill="#000"/>
<circle cx="1222.8" cy="742.2" r="8" fill="#000"/>
<circle cx="1221.6" cy="754.4" r="8" fill="#000"/>
<circle cx="1245.6" cy="753.7" r="8" fill="#000"/>
<circle cx="1282.2" cy="773.8" r="8" fill="#000"/>
<circle cx="1066.9" cy="737.7" r="8" fill="#000"/>
<circle cx="1013.4" cy="696.5" r="6.9" fill="#fff" stroke="#000" stroke-width="1.6"/>
<circle cx="1032.6" cy="697.2" r="6.9" fill="#fff" stroke="#000" stroke-width="1.6"/>
<circle cx="1027.1" cy="700.9" r="6.9" fill="#fff" stroke="#000" stroke-width="1.6"/>
<circle cx="1035" cy="705.8" r="6.9" fill="#fff" stroke="#000" stroke-width="1.6"/>
<circle cx="1039.9" cy="705.8" r="6.9" fill="#fff" stroke="#000" stroke-width="1.6"/>
<circle cx="1054.2" cy="702.1" r="6.9" fill="#fff" stroke="#000" stroke-width="1.6"/>
<circle cx="1080.4" cy="713.2" r="6.9" fill="#fff" stroke="#000" stroke-width="1.6"/>
<circle cx="1086.1" cy="710.7" r="6.9" fill="#fff" stroke="#000" stroke-width="1.6"/>
<circle cx="1088.5" cy="719.3" r="6.9" fill="#fff" stroke="#000" stroke-width="1.6"/>
<circle cx="1097.1" cy="703.4" r="6.9" fill="#fff" stroke="#000" stroke-width="1.6"/>
<circle cx="1100" cy="710.7" r="6.9" fill="#fff" stroke="#000" stroke-width="1.6"/>
<circle cx="1133.2" cy="703.4" r="6.9" fill="#fff" stroke="#000" stroke-width="1.6"/>
<circle cx="1131.2" cy="718.6" r="6.9" fill="#fff" stroke="#000" stroke-width="1.6"/>
<circle cx="1165.8" cy="725.5" r="6.9" fill="#fff" stroke="#000" stroke-width="1.6"/>
<circle cx="1208.1" cy="725" r="6.9" fill="#fff" stroke="#000" stroke-width="1.6"/>
<circle cx="1068.9" cy="732.8" r="6.9" fill="#fff" stroke="#000" stroke-width="1.6"/>
<circle cx="1078.7" cy="730.9" r="6.9" fill="#fff" stroke="#000" stroke-width="1.6"/>
<circle cx="1075.5" cy="739" r="6.9" fill="#fff" stroke="#000" stroke-width="1.6"/>
<text transform="translate(1070.11,680) scale(0.9799,1.03)" fill="#000" xml:space="preserve"><tspan font-size="29.5" font-style="italic">P</tspan><tspan font-size="29.5"> = 0.049</tspan></text>
<line x1="1368" y1="511.85" x2="1368" y2="806.45" stroke="#000" stroke-width="1.5"/>
<line x1="1354.5" y1="512.6" x2="1368" y2="512.6" stroke="#000" stroke-width="1.5"/>
<text x="1342.9" y="520.7" font-size="29.5" text-anchor="end" fill="#000">3</text>
<line x1="1354.5" y1="610.3" x2="1368" y2="610.3" stroke="#000" stroke-width="1.5"/>
<text x="1342.9" y="618.4" font-size="29.5" text-anchor="end" fill="#000">2</text>
<line x1="1354.5" y1="708" x2="1368" y2="708" stroke="#000" stroke-width="1.5"/>
<text x="1342.9" y="716.1" font-size="29.5" text-anchor="end" fill="#000">1</text>
<line x1="1354.5" y1="805.7" x2="1368" y2="805.7" stroke="#000" stroke-width="1.5"/>
<text x="1342.9" y="813.8" font-size="29.5" text-anchor="end" fill="#000">0</text>
<line x1="1354.5" y1="805.9" x2="1684.15" y2="805.9" stroke="#000" stroke-width="1.5"/>
<line x1="1368" y1="805.9" x2="1368" y2="819.65" stroke="#000" stroke-width="1.5"/>
<text x="1368" y="851.5" font-size="29.5" text-anchor="middle" fill="#000">0.0</text>
<line x1="1446.8" y1="805.9" x2="1446.8" y2="819.65" stroke="#000" stroke-width="1.5"/>
<text x="1446.8" y="851.5" font-size="29.5" text-anchor="middle" fill="#000">0.5</text>
<line x1="1525.3" y1="805.9" x2="1525.3" y2="819.65" stroke="#000" stroke-width="1.5"/>
<text x="1525.3" y="851.5" font-size="29.5" text-anchor="middle" fill="#000">1.0</text>
<line x1="1604.4" y1="805.9" x2="1604.4" y2="819.65" stroke="#000" stroke-width="1.5"/>
<text x="1604.4" y="851.5" font-size="29.5" text-anchor="middle" fill="#000">1.5</text>
<line x1="1683.4" y1="805.9" x2="1683.4" y2="819.65" stroke="#000" stroke-width="1.5"/>
<text x="1683.4" y="851.5" font-size="29.5" text-anchor="middle" fill="#000">2.0</text>
<text transform="translate(1472.58,511.2) scale(0.9869,1.015)" fill="#000" xml:space="preserve"><tspan font-size="29.5">100 ms</tspan></text>
<text transform="translate(1436.84,893.75) scale(0.9835,1.03)" fill="#000" xml:space="preserve"><tspan font-size="29.5">1p [DA]</tspan><tspan font-size="21" dy="7.5">o</tspan><tspan font-size="29.5" dy="-7.5"> (µM)</tspan></text>
<line x1="1374.9" y1="708.3" x2="1684" y2="708.3" stroke="#000" stroke-width="1.4" stroke-dasharray="6.7 9.8"/>
<line x1="1394" y1="756.9" x2="1678" y2="775.8" stroke="#000" stroke-width="1.5"/>
<line x1="1444.8" y1="739.7" x2="1603.6" y2="740.9" stroke="#000" stroke-width="1.5"/>
<circle cx="1393.3" cy="709.5" r="8" fill="#000"/>
<circle cx="1395.7" cy="776.3" r="8" fill="#000"/>
<circle cx="1419.1" cy="785.1" r="8" fill="#000"/>
<circle cx="1433.8" cy="777.5" r="8" fill="#000"/>
<circle cx="1432.6" cy="791.3" r="8" fill="#000"/>
<circle cx="1446.8" cy="791.7" r="8" fill="#000"/>
<circle cx="1439.9" cy="760.3" r="8" fill="#000"/>
<circle cx="1436.2" cy="735.3" r="8" fill="#000"/>
<circle cx="1446.8" cy="737.7" r="8" fill="#000"/>
<circle cx="1463.2" cy="760.6" r="8" fill="#000"/>
<circle cx="1466.4" cy="777" r="8" fill="#000"/>
<circle cx="1474.3" cy="756.6" r="8" fill="#000"/>
<circle cx="1481.6" cy="753.7" r="8" fill="#000"/>
<circle cx="1495.1" cy="748.8" r="8" fill="#000"/>
<circle cx="1495.1" cy="764.7" r="8" fill="#000"/>
<circle cx="1496.4" cy="768.4" r="8" fill="#000"/>
<circle cx="1506.7" cy="751.2" r="8" fill="#000"/>
<circle cx="1516" cy="757.4" r="8" fill="#000"/>
<circle cx="1520.9" cy="764.7" r="8" fill="#000"/>
<circle cx="1511.1" cy="769.6" r="8" fill="#000"/>
<circle cx="1505" cy="779" r="8" fill="#000"/>
<circle cx="1514.8" cy="774.6" r="8" fill="#000"/>
<circle cx="1533.2" cy="735.3" r="8" fill="#000"/>
<circle cx="1534.4" cy="770.9" r="8" fill="#000"/>
<circle cx="1541.8" cy="772.1" r="8" fill="#000"/>
<circle cx="1564.6" cy="762.3" r="8" fill="#000"/>
<circle cx="1576.1" cy="769.2" r="8" fill="#000"/>
<circle cx="1567.6" cy="776.5" r="8" fill="#000"/>
<circle cx="1590.4" cy="786.8" r="8" fill="#000"/>
<circle cx="1618.6" cy="759.8" r="8" fill="#000"/>
<circle cx="1617.9" cy="764.7" r="8" fill="#000"/>
<circle cx="1641.2" cy="764" r="8" fill="#000"/>
<circle cx="1678" cy="791.3" r="8" fill="#000"/>
<circle cx="1409.2" cy="739" r="6.9" fill="#fff" stroke="#000" stroke-width="1.6"/>
<circle cx="1423.5" cy="745.8" r="6.9" fill="#fff" stroke="#000" stroke-width="1.6"/>
<circle cx="1430.6" cy="735.3" r="6.9" fill="#fff" stroke="#000" stroke-width="1.6"/>
<circle cx="1435.5" cy="745.1" r="6.9" fill="#fff" stroke="#000" stroke-width="1.6"/>
<circle cx="1450.2" cy="729.9" r="6.9" fill="#fff" stroke="#000" stroke-width="1.6"/>
<circle cx="1464" cy="750" r="6.9" fill="#fff" stroke="#000" stroke-width="1.6"/>
<circle cx="1471.8" cy="747.1" r="6.9" fill="#fff" stroke="#000" stroke-width="1.6"/>
<circle cx="1476.7" cy="737.7" r="6.9" fill="#fff" stroke="#000" stroke-width="1.6"/>
<circle cx="1484.6" cy="745.8" r="6.9" fill="#fff" stroke="#000" stroke-width="1.6"/>
<circle cx="1482.1" cy="727.4" r="6.9" fill="#fff" stroke="#000" stroke-width="1.6"/>
<circle cx="1493.4" cy="729.9" r="6.9" fill="#fff" stroke="#000" stroke-width="1.6"/>
<circle cx="1496.4" cy="739" r="6.9" fill="#fff" stroke="#000" stroke-width="1.6"/>
<circle cx="1529.5" cy="731.6" r="6.9" fill="#fff" stroke="#000" stroke-width="1.6"/>
<circle cx="1527.1" cy="745.1" r="6.9" fill="#fff" stroke="#000" stroke-width="1.6"/>
<circle cx="1562.2" cy="745.8" r="6.9" fill="#fff" stroke="#000" stroke-width="1.6"/>
<circle cx="1603.6" cy="741.4" r="6.9" fill="#fff" stroke="#000" stroke-width="1.6"/>
<circle cx="1602.9" cy="554.1" r="7" fill="#000"/>
<circle cx="1602.9" cy="588.4" r="6.05" fill="#fff" stroke="#000" stroke-width="1.5"/>
<text transform="translate(1617.01,562.9) scale(0.9421,1.03)" fill="#000" xml:space="preserve"><tspan font-size="27">CPu</tspan></text>
<text transform="translate(1617.12,596.9) scale(0.9380,1.03)" fill="#000" xml:space="preserve"><tspan font-size="27">NAc</tspan></text>
<text transform="translate(-1.43,973) scale(1.0551,1.0)" fill="#000" xml:space="preserve"><tspan font-size="42" font-weight="bold">e</tspan></text>
<text transform="translate(78.47,984.5) scale(1.0198,1.03)" fill="#000" xml:space="preserve"><tspan font-size="29.5">CPu</tspan></text>
<line x1="0" y1="1032" x2="35" y2="1032" stroke="#000" stroke-width="2.2"/>
<text transform="translate(46.2,1039.5) scale(0.8677,1.03)" fill="#000" xml:space="preserve"><tspan font-size="29.5">Control</tspan></text>
<line x1="0" y1="1073.75" x2="35" y2="1073.75" stroke="#009a2e" stroke-width="2.2"/>
<text transform="translate(45.42,1081.25) scale(0.8590,1.03)" fill="#000" xml:space="preserve"><tspan font-size="29.5">L741,626</tspan></text>
<path d="M354.25,1018.75 L354.25,1056.25 L400,1056.25" stroke="#000" stroke-width="1.5" fill="none" stroke-linejoin="miter" stroke-miterlimit="4" />
<text transform="translate(250.84,1042) scale(1.0034,1.03)" fill="#000" xml:space="preserve"><tspan font-size="29.5">0.1 µM</tspan></text>
<text transform="translate(350.11,1089.5) scale(0.9921,1.015)" fill="#000" xml:space="preserve"><tspan font-size="29.5">0.5 s</tspan></text>
<line x1="11.25" y1="1289.3" x2="411.25" y2="1289.3" stroke="#000" stroke-width="1.6" stroke-dasharray="3 2"/>
<line x1="68.75" y1="1178.25" x2="396.25" y2="1178.25" stroke="#000" stroke-width="1.4" stroke-dasharray="6.7 9.8"/>
<path d="M12.3,1288.5 L33.6,1288.5 L45.9,1288 L57.5,1182.5 L68.9,1188 L80.1,1235 L91.8,1260.5 L103,1272.5 L114.6,1279.5 L125.8,1283.5 L137,1284.3" stroke="#009a2e" stroke-width="2.5" fill="none" stroke-linejoin="miter" stroke-miterlimit="4" />
<path d="M57.5,1175V1206 M68.9,1176V1200 M80.1,1231V1241 M91.8,1256V1266 M103,1269V1277 M114.6,1277V1283 M125.8,1281V1287" stroke="#009a2e" stroke-width="1.5" fill="none"/>
<path d="M12.3,1289.9 L33.6,1291 L45.9,1288.8 L57.5,1177.6 L68.9,1187 L80.1,1236.2 L91.8,1261.9 L103,1274.2 L114.6,1281 L125.8,1285 L137,1285.9" stroke="#000" stroke-width="2.5" fill="none" stroke-linejoin="miter" stroke-miterlimit="4" />
<path d="M57.5,1150.7V1204.9 M68.9,1174.6V1200.4 M80.1,1232V1240 M91.8,1258V1265" stroke="#000" stroke-width="1.5" fill="none"/>
<path d="M145.5,1290 L156.7,1288.5 L179,1290 L190.7,1099.7 L202.6,1038.1 L213.7,1117.6 L224.9,1188 L236.6,1232 L247.8,1254 L259.2,1266 L270.4,1269.8" stroke="#009a2e" stroke-width="2.5" fill="none" stroke-linejoin="miter" stroke-miterlimit="4" />
<path d="M190.7,1080V1135 M202.6,1010V1074 M213.7,1095V1140 M224.9,1180V1200 M236.6,1224V1242 M247.8,1247V1262 M259.2,1259V1274 M270.4,1262V1278" stroke="#009a2e" stroke-width="1.5" fill="none"/>
<path d="M145.5,1291 L156.7,1287.7 L179,1291 L190.7,1088.5 L202.6,1029.2 L213.7,1119.8 L224.9,1190.3 L236.6,1234 L247.8,1256.3 L259.2,1268.6 L270.4,1273.8" stroke="#000" stroke-width="2.5" fill="none" stroke-linejoin="miter" stroke-miterlimit="4" />
<path d="M190.7,1049.3V1128.8 M202.6,994.5V1062 M213.7,1095V1140 M224.9,1182.5V1206 M236.6,1220.5V1244 M247.8,1247.4V1264.2 M259.2,1257.5V1275.4 M270.4,1266.4V1278.7" stroke="#000" stroke-width="1.5" fill="none"/>
<path d="M281.5,1287 L304.6,1287.7 L315.5,1289.1 L327,1186.6 L337.9,1140.4 L349.4,1191 L361,1235.7 L372.5,1257.4 L383.8,1270.4 L394.9,1275.4 L406,1276.8" stroke="#009a2e" stroke-width="2.5" fill="none" stroke-linejoin="miter" stroke-miterlimit="4" />
<path d="M327,1165V1208 M337.9,1120V1162 M349.4,1178.7V1210.4 M361,1227.8V1244 M372.5,1252.3V1262.5 M383.8,1265.5V1275 M394.9,1272.5V1280 M406,1275.4V1279.6" stroke="#009a2e" stroke-width="1.5" fill="none"/>
<path d="M281.5,1287.7 L292.4,1289.8 L304.6,1289.8 L315.5,1292 L327,1176.5 L337.9,1134.6 L349.4,1193.8 L361,1240.8 L372.5,1261.7 L383.8,1274.7 L394.9,1279 L406,1281.2" stroke="#000" stroke-width="2.5" fill="none" stroke-linejoin="miter" stroke-miterlimit="4" />
<path d="M327,1153.4V1209 M337.9,1110.8V1160 M349.4,1183V1205 M361,1227V1248.7 M372.5,1253V1267.5 M383.8,1266V1280.4 M394.9,1273.2V1283.3 M406,1276V1284.5" stroke="#000" stroke-width="1.5" fill="none"/>
<path d="M47.5,1309.7 L51.6,1320.1 L48.8,1318.9 V1335.3 H46.2 V1318.9 L43.4,1320.1 Z" fill="#000"/>
<text transform="translate(56.95,1335) scale(1.0229,1.015)" fill="#000" xml:space="preserve"><tspan font-size="29.5">1p</tspan></text>
<path d="M176.5,1309.7 L180.6,1320.1 L177.8,1318.9 V1335.3 H175.2 V1318.9 L172.4,1320.1 Z" fill="#000"/>
<path d="M178.5,1309.7 L182.6,1320.1 L179.8,1318.9 V1335.3 H177.2 V1318.9 L174.4,1320.1 Z" fill="#000"/>
<text transform="translate(183.5,1335) scale(1.0136,1.015)" fill="#000" xml:space="preserve"><tspan font-size="29.5">2p</tspan></text>
<text transform="translate(167.8,1367.5) scale(0.9803,1.015)" fill="#000" xml:space="preserve"><tspan font-size="29.5">10 ms</tspan></text>
<path d="M317,1309.7 L321.1,1320.1 L318.3,1318.9 V1335.3 H315.7 V1318.9 L312.9,1320.1 Z" fill="#000"/>
<path d="M327.5,1309.7 L331.6,1320.1 L328.8,1318.9 V1335.3 H326.2 V1318.9 L323.4,1320.1 Z" fill="#000"/>
<text transform="translate(309.79,1367.5) scale(0.9821,1.015)" fill="#000" xml:space="preserve"><tspan font-size="29.5">100 ms</tspan></text>
<line x1="537.1" y1="1011.75" x2="537.1" y2="1290.05" stroke="#000" stroke-width="1.5"/>
<line x1="523.2" y1="1012.5" x2="537.1" y2="1012.5" stroke="#000" stroke-width="1.5"/>
<text x="512.4" y="1020.6" font-size="30" text-anchor="end" fill="#000">2.0</text>
<line x1="523.2" y1="1081.7" x2="537.1" y2="1081.7" stroke="#000" stroke-width="1.5"/>
<text x="512.4" y="1089.8" font-size="30" text-anchor="end" fill="#000">1.5</text>
<line x1="523.2" y1="1150.9" x2="537.1" y2="1150.9" stroke="#000" stroke-width="1.5"/>
<text x="512.4" y="1159" font-size="30" text-anchor="end" fill="#000">1.0</text>
<line x1="523.2" y1="1220.1" x2="537.1" y2="1220.1" stroke="#000" stroke-width="1.5"/>
<text x="512.4" y="1228.2" font-size="30" text-anchor="end" fill="#000">0.5</text>
<line x1="523.2" y1="1289.3" x2="537.1" y2="1289.3" stroke="#000" stroke-width="1.5"/>
<text x="512.4" y="1297.4" font-size="30" text-anchor="end" fill="#000">0.0</text>
<line x1="523.2" y1="1289.3" x2="837.45" y2="1289.3" stroke="#000" stroke-width="1.5"/>
<line x1="536.95" y1="1289.3" x2="536.95" y2="1303" stroke="#000" stroke-width="1.5"/>
<text x="536.95" y="1334.4" font-size="30" text-anchor="middle" fill="#000">0</text>
<line x1="611.89" y1="1289.3" x2="611.89" y2="1303" stroke="#000" stroke-width="1.5"/>
<text x="611.89" y="1334.4" font-size="30" text-anchor="middle" fill="#000">50</text>
<line x1="686.83" y1="1289.3" x2="686.83" y2="1303" stroke="#000" stroke-width="1.5"/>
<text x="686.83" y="1334.4" font-size="30" text-anchor="middle" fill="#000">100</text>
<line x1="761.77" y1="1289.3" x2="761.77" y2="1303" stroke="#000" stroke-width="1.5"/>
<text x="761.77" y="1334.4" font-size="30" text-anchor="middle" fill="#000">150</text>
<line x1="836.71" y1="1289.3" x2="836.71" y2="1303" stroke="#000" stroke-width="1.5"/>
<text x="836.71" y="1334.4" font-size="30" text-anchor="middle" fill="#000">200</text>
<text transform="translate(636.6,1378.2) scale(0.9921,1.03)" fill="#000" xml:space="preserve"><tspan font-size="29.5">IPI (ms)</tspan></text>
<text transform="translate(455,1190.48) rotate(-90) scale(0.9438,1)" font-size="29.5">P2/P1</text>
<line x1="548.7" y1="1150.2" x2="842.5" y2="1150.2" stroke="#000" stroke-width="1.4" stroke-dasharray="6.7 9.8"/>
<path d="M551.4,1073.6 L596,1177.4 L686.1,1212.5 L836.7,1217.4" stroke="#000" stroke-width="1.5" fill="none" stroke-linejoin="miter" stroke-miterlimit="4" />
<line x1="551.4" y1="1049.7" x2="551.4" y2="1099.4" stroke="#000" stroke-width="1.5"/>
<line x1="542.1" y1="1049.7" x2="560.7" y2="1049.7" stroke="#000" stroke-width="1.5"/>
<line x1="542.1" y1="1099.4" x2="560.7" y2="1099.4" stroke="#000" stroke-width="1.5"/>
<line x1="596" y1="1161.3" x2="596" y2="1193.5" stroke="#000" stroke-width="1.5"/>
<line x1="586.7" y1="1161.3" x2="605.3" y2="1161.3" stroke="#000" stroke-width="1.5"/>
<line x1="586.7" y1="1193.5" x2="605.3" y2="1193.5" stroke="#000" stroke-width="1.5"/>
<circle cx="551.4" cy="1073.6" r="9.4" fill="#000"/>
<circle cx="596" cy="1177.4" r="9.4" fill="#000"/>
<circle cx="686.1" cy="1212.5" r="9.4" fill="#000"/>
<circle cx="836.7" cy="1217.4" r="9.4" fill="#000"/>
<path d="M551.4,1081.5 L596,1194.9 L686.1,1215.4 L836.7,1218.3" stroke="#009a2e" stroke-width="1.5" fill="none" stroke-linejoin="miter" stroke-miterlimit="4" />
<line x1="551.4" y1="1069.7" x2="551.4" y2="1093.2" stroke="#17803a" stroke-width="1.5"/>
<line x1="542.1" y1="1069.7" x2="560.7" y2="1069.7" stroke="#17803a" stroke-width="1.5"/>
<line x1="542.1" y1="1093.2" x2="560.7" y2="1093.2" stroke="#17803a" stroke-width="1.5"/>
<line x1="596" y1="1186" x2="596" y2="1203.7" stroke="#17803a" stroke-width="1.5"/>
<line x1="586.7" y1="1186" x2="605.3" y2="1186" stroke="#17803a" stroke-width="1.5"/>
<line x1="586.7" y1="1203.7" x2="605.3" y2="1203.7" stroke="#17803a" stroke-width="1.5"/>
<circle cx="551.4" cy="1081.5" r="9.8" fill="#009a2e"/>
<circle cx="596" cy="1194.9" r="9.8" fill="#009a2e"/>
<circle cx="686.1" cy="1215.4" r="9.8" fill="#009a2e"/>
<circle cx="836.7" cy="1218.3" r="9.8" fill="#009a2e"/>
<line x1="676.7" y1="1006.3" x2="712.4" y2="1006.3" stroke="#333" stroke-width="1.5"/>
<circle cx="694.4" cy="1006.3" r="9.4" fill="#333"/>
<line x1="676.7" y1="1043.8" x2="712.4" y2="1043.8" stroke="#009a2e" stroke-width="1.5"/>
<circle cx="694.4" cy="1043.8" r="9.6" fill="#009a2e"/>
<text transform="translate(719.9,1014.5) scale(0.8677,1.03)" fill="#000" xml:space="preserve"><tspan font-size="29.5">Control</tspan></text>
<text transform="translate(719.11,1051.6) scale(0.8649,1.03)" fill="#000" xml:space="preserve"><tspan font-size="29.5">L741,626</tspan></text>
<text transform="translate(901.41,975.6) scale(0.9588,1.0)" fill="#000" xml:space="preserve"><tspan font-size="42" font-weight="bold">f</tspan></text>
<text transform="translate(960.02,984.5) scale(1.0232,1.03)" fill="#000" xml:space="preserve"><tspan font-size="29.5">NAc</tspan></text>
<path d="M1007,1033.75 L1007,1088 L1052,1088" stroke="#000" stroke-width="1.5" fill="none" stroke-linejoin="miter" stroke-miterlimit="4" />
<text transform="translate(900.84,1070.5) scale(1.0034,1.03)" fill="#000" xml:space="preserve"><tspan font-size="29.5">0.1 µM</tspan></text>
<text transform="translate(1003.84,1120) scale(1.0043,1.015)" fill="#000" xml:space="preserve"><tspan font-size="29.5">0.5 s</tspan></text>
<line x1="908.75" y1="1289.3" x2="1291.25" y2="1289.3" stroke="#000" stroke-width="1.6" stroke-dasharray="3 2"/>
<line x1="965" y1="1158" x2="1257.5" y2="1158" stroke="#000" stroke-width="1.4" stroke-dasharray="6.7 9.8"/>
<path d="M908.75,1289.5 L931.25,1289.5 L941.25,1289.5 L953,1181.25 L964.25,1154.5 L975.5,1181.25 L986.75,1222.5 L997.5,1245 L1008.75,1257.5 L1020,1266.25 L1030.75,1272.5" stroke="#009a2e" stroke-width="2.5" fill="none" stroke-linejoin="miter" stroke-miterlimit="4" />
<path d="M953,1175V1199 M964.25,1125V1177 M975.5,1158.75V1205 M986.75,1200V1245 M997.5,1229V1261 M1008.75,1246V1269 M1020,1256V1276 M1030.75,1265V1280" stroke="#009a2e" stroke-width="1.5" fill="none"/>
<path d="M908.75,1289.5 L921.25,1287 L931.25,1287 L941.25,1289.5 L953,1158.75 L964.25,1152 L975.5,1197.5 L986.75,1237.5 L997.5,1256.25 L1008.75,1266.25 L1020,1272.5 L1030.75,1278.75" stroke="#000" stroke-width="2.5" fill="none" stroke-linejoin="miter" stroke-miterlimit="4" />
<path d="M953,1145V1172 M964.25,1131V1172 M975.5,1180V1219 M986.75,1222.5V1250 M997.5,1248V1264 M1008.75,1259V1273 M1020,1266V1279 M1030.75,1273V1284" stroke="#000" stroke-width="1.5" fill="none"/>
<path d="M1042,1291.25 L1074.5,1289 L1087,1126.25 L1097.5,1053.75 L1108.75,1090 L1120,1145 L1130.75,1192.5 L1142,1220 L1153,1237.5 L1163.75,1251.25" stroke="#009a2e" stroke-width="2.5" fill="none" stroke-linejoin="miter" stroke-miterlimit="4" />
<path d="M1087,1100V1152 M1097.5,1050V1086.25 M1108.75,1051.25V1133.75 M1120,1108.75V1180 M1130.75,1161.25V1222 M1142,1197.5V1240 M1153,1222.5V1252 M1163.75,1240V1263" stroke="#009a2e" stroke-width="1.5" fill="none"/>
<path d="M1042,1291.25 L1052.5,1292 L1065,1288 L1074.5,1288 L1087,1082.5 L1097.5,1026.25 L1108.75,1093.75 L1120,1160 L1130.75,1200 L1142,1233.75 L1153,1251.25 L1163.75,1261.25" stroke="#000" stroke-width="2.5" fill="none" stroke-linejoin="miter" stroke-miterlimit="4" />
<path d="M1087,1070V1095 M1097.5,998.75V1054 M1108.75,1052.5V1135 M1120,1122.5V1191.25 M1130.75,1162.5V1230 M1142,1198.75V1252.5 M1153,1222V1266 M1163.75,1240V1271" stroke="#000" stroke-width="1.5" fill="none"/>
<path d="M1173.75,1289 L1206.25,1289 L1217.5,1163.75 L1228.75,1062.5 L1240,1082.5 L1251.25,1135 L1262,1187.5 L1273.25,1217.5 L1284.25,1237.5 L1295,1250" stroke="#3cb428" stroke-width="2.5" fill="none" stroke-linejoin="miter" stroke-miterlimit="4" />
<path d="M1217.5,1118.75V1188.75 M1228.75,1023.75V1100 M1240,1042.5V1122 M1251.25,1096.25V1172 M1262,1151.25V1222 M1273.25,1192.5V1242 M1284.25,1218.75V1256 M1295,1237.5V1263" stroke="#009a2e" stroke-width="1.5" fill="none"/>
<path d="M1173.75,1289 L1183.75,1289 L1195.5,1284 L1206.25,1290 L1217.5,1150 L1228.75,1070 L1240,1112.5 L1251.25,1172.5 L1262,1216.25 L1273.25,1241.25 L1284.25,1258.75 L1295,1266.25" stroke="#000" stroke-width="2.5" fill="none" stroke-linejoin="miter" stroke-miterlimit="4" />
<path d="M1195.5,1277.5V1289 M1217.5,1118.75V1180 M1228.75,1030V1110 M1240,1080V1141.25 M1251.25,1157.5V1201.25 M1262,1197.5V1238.75 M1273.25,1227.5V1255 M1284.25,1246.25V1267.5 M1295,1256.25V1276.25" stroke="#000" stroke-width="1.5" fill="none"/>
<path d="M939.25,1309.7 L943.35,1320.1 L940.55,1318.9 V1335.3 H937.95 V1318.9 L935.15,1320.1 Z" fill="#000"/>
<text transform="translate(948.24,1335) scale(1.0059,1.015)" fill="#000" xml:space="preserve"><tspan font-size="29.5">1p</tspan></text>
<path d="M1070.5,1309.7 L1074.6,1320.1 L1071.8,1318.9 V1335.3 H1069.2 V1318.9 L1066.4,1320.1 Z" fill="#000"/>
<path d="M1072.5,1309.7 L1076.6,1320.1 L1073.8,1318.9 V1335.3 H1071.2 V1318.9 L1068.4,1320.1 Z" fill="#000"/>
<text transform="translate(1080.5,1335) scale(1.0136,1.015)" fill="#000" xml:space="preserve"><tspan font-size="29.5">2p</tspan></text>
<text transform="translate(1062.3,1367.5) scale(0.9803,1.015)" fill="#000" xml:space="preserve"><tspan font-size="29.5">10 ms</tspan></text>
<path d="M1201.25,1309.7 L1205.35,1320.1 L1202.55,1318.9 V1335.3 H1199.95 V1318.9 L1197.15,1320.1 Z" fill="#000"/>
<path d="M1212.5,1309.7 L1216.6,1320.1 L1213.8,1318.9 V1335.3 H1211.2 V1318.9 L1208.4,1320.1 Z" fill="#000"/>
<text transform="translate(1194.06,1367.5) scale(0.9767,1.015)" fill="#000" xml:space="preserve"><tspan font-size="29.5">100 ms</tspan></text>
<line x1="1421.4" y1="1008.85" x2="1421.4" y2="1288.95" stroke="#000" stroke-width="1.5"/>
<line x1="1408.2" y1="1009.6" x2="1421.4" y2="1009.6" stroke="#000" stroke-width="1.5"/>
<text x="1396.3" y="1017.7" font-size="30" text-anchor="end" fill="#000">2.0</text>
<line x1="1408.2" y1="1079.25" x2="1421.4" y2="1079.25" stroke="#000" stroke-width="1.5"/>
<text x="1396.3" y="1087.35" font-size="30" text-anchor="end" fill="#000">1.5</text>
<line x1="1408.2" y1="1148.9" x2="1421.4" y2="1148.9" stroke="#000" stroke-width="1.5"/>
<text x="1396.3" y="1157" font-size="30" text-anchor="end" fill="#000">1.0</text>
<line x1="1408.2" y1="1218.55" x2="1421.4" y2="1218.55" stroke="#000" stroke-width="1.5"/>
<text x="1396.3" y="1226.65" font-size="30" text-anchor="end" fill="#000">0.5</text>
<line x1="1408.2" y1="1288.2" x2="1421.4" y2="1288.2" stroke="#000" stroke-width="1.5"/>
<text x="1396.3" y="1296.3" font-size="30" text-anchor="end" fill="#000">0.0</text>
<line x1="1408.2" y1="1287.7" x2="1721.95" y2="1287.7" stroke="#000" stroke-width="1.5"/>
<line x1="1421.4" y1="1287.7" x2="1421.4" y2="1300.3" stroke="#000" stroke-width="1.5"/>
<text x="1421.4" y="1332.4" font-size="30" text-anchor="middle" fill="#000">0</text>
<line x1="1496.35" y1="1287.7" x2="1496.35" y2="1300.3" stroke="#000" stroke-width="1.5"/>
<text x="1496.35" y="1332.4" font-size="30" text-anchor="middle" fill="#000">50</text>
<line x1="1571.3" y1="1287.7" x2="1571.3" y2="1300.3" stroke="#000" stroke-width="1.5"/>
<text x="1571.3" y="1332.4" font-size="30" text-anchor="middle" fill="#000">100</text>
<line x1="1646.25" y1="1287.7" x2="1646.25" y2="1300.3" stroke="#000" stroke-width="1.5"/>
<text x="1646.25" y="1332.4" font-size="30" text-anchor="middle" fill="#000">150</text>
<line x1="1721.2" y1="1287.7" x2="1721.2" y2="1300.3" stroke="#000" stroke-width="1.5"/>
<text x="1721.2" y="1332.4" font-size="30" text-anchor="middle" fill="#000">200</text>
<text transform="translate(1522.47,1376.3) scale(1.0012,1.03)" fill="#000" xml:space="preserve"><tspan font-size="29.5">IPI (ms)</tspan></text>
<text transform="translate(1339.5,1188.52) rotate(-90) scale(0.9568,1)" font-size="29.5">P2/P1</text>
<line x1="1432.2" y1="1148.8" x2="1725.6" y2="1148.8" stroke="#000" stroke-width="1.4" stroke-dasharray="6.7 9.8"/>
<path d="M1436,1097 L1480.8,1159.9 L1571.1,1191.2 L1721.2,1218.4" stroke="#000" stroke-width="1.5" fill="none" stroke-linejoin="miter" stroke-miterlimit="4" />
<line x1="1436" y1="1079.5" x2="1436" y2="1114.5" stroke="#000" stroke-width="1.5"/>
<line x1="1427" y1="1114.5" x2="1445" y2="1114.5" stroke="#000" stroke-width="1.5"/>
<line x1="1480.8" y1="1150.3" x2="1480.8" y2="1169.5" stroke="#000" stroke-width="1.5"/>
<line x1="1471.8" y1="1169.5" x2="1489.8" y2="1169.5" stroke="#000" stroke-width="1.5"/>
<line x1="1571.1" y1="1181.8" x2="1571.1" y2="1201.4" stroke="#000" stroke-width="1.5"/>
<line x1="1562.1" y1="1201.4" x2="1580.1" y2="1201.4" stroke="#000" stroke-width="1.5"/>
<line x1="1562.1" y1="1181.8" x2="1580.1" y2="1181.8" stroke="#000" stroke-width="1.5"/>
<circle cx="1436" cy="1097" r="8.8" fill="#fff" stroke="#000" stroke-width="2"/>
<circle cx="1480.8" cy="1159.9" r="8.8" fill="#fff" stroke="#000" stroke-width="2"/>
<circle cx="1571.1" cy="1191.2" r="8.8" fill="#fff" stroke="#000" stroke-width="2"/>
<circle cx="1721.2" cy="1218.4" r="8.8" fill="#fff" stroke="#000" stroke-width="2"/>
<path d="M1436,1079.4 L1480.8,1150.5 L1571.1,1189.1 L1721.2,1200" stroke="#009a2e" stroke-width="1.5" fill="none" stroke-linejoin="miter" stroke-miterlimit="4" />
<line x1="1436" y1="1056.9" x2="1436" y2="1079.4" stroke="#009a2e" stroke-width="1.5"/>
<line x1="1427" y1="1056.9" x2="1445" y2="1056.9" stroke="#009a2e" stroke-width="1.5"/>
<line x1="1480.8" y1="1136.5" x2="1480.8" y2="1150.5" stroke="#009a2e" stroke-width="1.5"/>
<line x1="1471.8" y1="1136.5" x2="1489.8" y2="1136.5" stroke="#009a2e" stroke-width="1.5"/>
<circle cx="1436" cy="1079.4" r="8.8" fill="#fff" stroke="#009a2e" stroke-width="2"/>
<circle cx="1480.8" cy="1150.5" r="8.8" fill="#fff" stroke="#009a2e" stroke-width="2"/>
<circle cx="1571.1" cy="1189.1" r="8.8" fill="#fff" stroke="#009a2e" stroke-width="2"/>
<circle cx="1721.2" cy="1200" r="8.8" fill="#fff" stroke="#009a2e" stroke-width="2"/>
<line x1="1571.4" y1="1004.9" x2="1606.5" y2="1004.9" stroke="#000" stroke-width="1.5"/>
<circle cx="1589" cy="1004.9" r="8.05" fill="#fff" stroke="#000" stroke-width="1.9"/>
<line x1="1571.4" y1="1043.8" x2="1606.5" y2="1043.8" stroke="#009a2e" stroke-width="1.5"/>
<circle cx="1589" cy="1043.8" r="8.05" fill="#fff" stroke="#009a2e" stroke-width="1.9"/>
<text transform="translate(1616.91,1012.8) scale(0.8589,1.03)" fill="#000" xml:space="preserve"><tspan font-size="29.5">Control</tspan></text>
<text transform="translate(1616.12,1050.8) scale(0.8582,1.03)" fill="#000" xml:space="preserve"><tspan font-size="29.5">L741,626</tspan></text>
</svg></body></html>
